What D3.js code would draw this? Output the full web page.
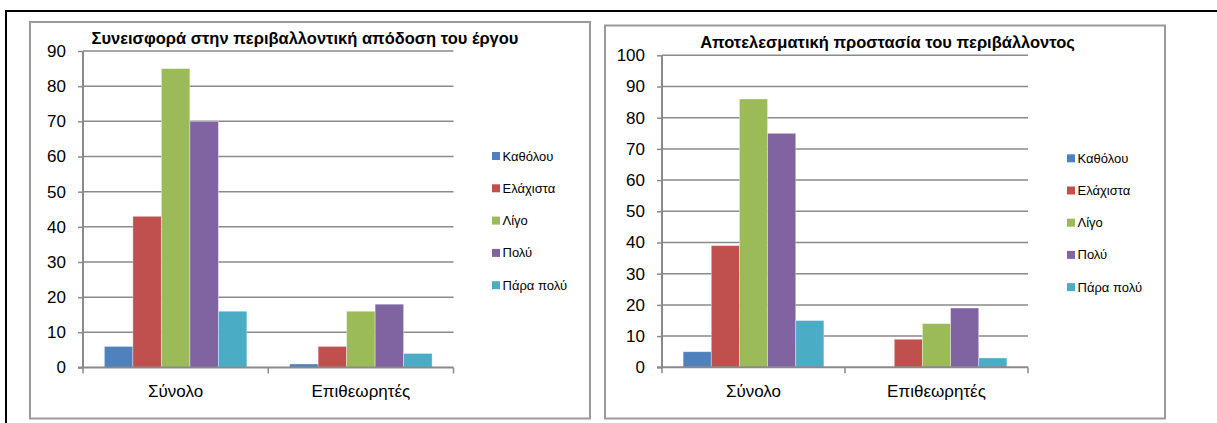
<!DOCTYPE html>
<html>
<head>
<meta charset="utf-8">
<script src="https://cdn.jsdelivr.net/npm/d3@7"></script>
<style>
  html, body { margin: 0; padding: 0; background: #fff; }
  svg { display: block; }
  text { font-family: "Liberation Sans", Arial, sans-serif; fill: #000; }
</style>
</head>
<body>
<svg id="chart" width="1217" height="423"></svg>
<script>
// ---- data ----
const categories = ["Σύνολο", "Επιθεωρητές"];
const seriesNames = ["Καθόλου", "Ελάχιστα", "Λίγο", "Πολύ", "Πάρα πολύ"];
const seriesColors = ["#4F81BD", "#C0504D", "#9BBB59", "#8064A2", "#4BACC6"];

const title1 = "Συνεισφορά στην περιβαλλοντική απόδοση του έργου";
const yTicks1 = [0, 10, 20, 30, 40, 50, 60, 70, 80, 90];
const values1Katholou = [6, 1];
const values1Elaxista = [43, 6];
const values1Ligo = [85, 16];
const values1Poly = [70, 18];
const values1ParaPoly = [16, 4];

const title2 = "Αποτελεσματική προστασία του περιβάλλοντος";
const yTicks2 = [0, 10, 20, 30, 40, 50, 60, 70, 80, 90, 100];
const values2Katholou = [5, 0];
const values2Elaxista = [39, 9];
const values2Ligo = [86, 14];
const values2Poly = [75, 19];
const values2ParaPoly = [15, 3];

const svg = d3.select("#chart");

// outer black frame (top and left edges)
svg.append("line").attr("x1", 5.5).attr("x2", 1217).attr("y1", 11).attr("y2", 11)
  .attr("stroke", "#000").attr("stroke-width", 2);
svg.append("line").attr("x1", 6).attr("x2", 6).attr("y1", 10).attr("y2", 423)
  .attr("stroke", "#000").attr("stroke-width", 2);

function drawChart(cfg) {
  const g = svg.append("g");
  // chart frame
  g.append("rect")
    .attr("x", cfg.box[0]).attr("y", cfg.box[1])
    .attr("width", cfg.box[2] - cfg.box[0]).attr("height", cfg.box[3] - cfg.box[1])
    .attr("fill", "#fff").attr("stroke", "#9a9a9a").attr("stroke-width", 2);

  const x0 = d3.scaleBand().domain(cfg.categories)
    .range([cfg.plot.left, cfg.plot.right]).paddingInner(0).paddingOuter(0);
  // Excel gap width 150%: 0.75 bar width on each side of the group
  const x1 = d3.scaleBand().domain(cfg.series.map(s => s.name))
    .range([0, x0.bandwidth()]).paddingInner(0).paddingOuter(0.75);
  const y = d3.scaleLinear().domain([0, cfg.yMax]).range([cfg.plot.bottom, cfg.plot.top]);

  // gridlines
  g.append("g").selectAll("line").data(cfg.yTicks.filter(t => t > 0)).join("line")
    .attr("x1", cfg.plot.left).attr("x2", cfg.plot.right)
    .attr("y1", d => y(d)).attr("y2", d => y(d))
    .attr("stroke", "#8a8a8a").attr("stroke-width", 1.5);

  // bars
  cfg.series.forEach((s) => {
    g.append("g").selectAll("rect").data(s.values).join("rect")
      .attr("x", (d, i) => x0(cfg.categories[i]) + x1(s.name))
      .attr("width", x1.bandwidth())
      .attr("y", d => y(d))
      .attr("height", d => y(0) - y(d))
      .attr("fill", s.color)
      .attr("stroke", "rgba(255,255,255,0.45)").attr("stroke-width", 0.8);
  });

  // y axis
  const yAxis = d3.axisLeft(y).tickValues(cfg.yTicks).tickSize(5).tickPadding(12);
  const ya = g.append("g").attr("transform", `translate(${cfg.plot.left},0)`).call(yAxis);
  ya.select(".domain").attr("stroke", "#8a8a8a").attr("stroke-width", 2)
    .attr("d", `M0,${cfg.plot.top}V${cfg.plot.bottom}`);
  ya.selectAll(".tick line").attr("stroke", "#8a8a8a").attr("stroke-width", 1.5);
  ya.selectAll(".tick text").attr("font-size", 17).attr("font-family", "Liberation Sans, Arial, sans-serif").attr("fill", "#000");

  // x axis
  const xa = g.append("g").attr("transform", `translate(0,${cfg.plot.bottom})`);
  xa.append("line").attr("x1", cfg.plot.left - 5).attr("x2", cfg.plot.right)
    .attr("stroke", "#8a8a8a").attr("stroke-width", 2);
  const bounds = cfg.categories.map(c => x0(c)).concat([cfg.plot.right]);
  xa.selectAll("line.tk").data(bounds).join("line").attr("class", "tk")
    .attr("x1", d => d).attr("x2", d => d).attr("y1", 0).attr("y2", 6)
    .attr("stroke", "#8a8a8a").attr("stroke-width", 1.5);
  xa.selectAll("text").data(cfg.categories).join("text")
    .attr("x", d => x0(d) + x0.bandwidth() / 2)
    .attr("y", 24)
    .attr("dy", "0.35em")
    .attr("text-anchor", "middle")
    .attr("font-size", 17)
    .text(d => d);

  // title
  g.append("text")
    .attr("x", cfg.titlePos[0]).attr("y", cfg.titlePos[1]).attr("dy", "0.35em")
    .attr("text-anchor", "middle").attr("font-weight", "bold").attr("font-size", 16.5)
    .text(cfg.title);

  // legend
  const lg = g.append("g");
  cfg.series.forEach((s, i) => {
    const ly = cfg.legend.y + i * cfg.legend.step;
    lg.append("rect").attr("x", cfg.legend.x).attr("y", ly - 4).attr("width", 8).attr("height", 8)
      .attr("fill", s.color);
    lg.append("text").attr("x", cfg.legend.x + 10.5).attr("y", ly).attr("dy", "0.35em")
      .attr("font-size", 13).text(s.name);
  });
}

drawChart({
  box: [30, 22, 590, 418.5],
  plot: { left: 83, right: 453.5, top: 51, bottom: 367.5 },
  yMax: 90, yTicks: yTicks1, categories,
  title: title1, titlePos: [305, 38],
  legend: { x: 492, y: 156, step: 32.3 },
  series: [values1Katholou, values1Elaxista, values1Ligo, values1Poly, values1ParaPoly]
    .map((v, i) => ({ name: seriesNames[i], color: seriesColors[i], values: v }))
});

drawChart({
  box: [605, 25.5, 1165, 418.5],
  plot: { left: 662, right: 1028, top: 55.3, bottom: 367.3 },
  yMax: 100, yTicks: yTicks2, categories,
  title: title2, titlePos: [887.5, 42.7],
  legend: { x: 1067, y: 158.3, step: 32.2 },
  series: [values2Katholou, values2Elaxista, values2Ligo, values2Poly, values2ParaPoly]
    .map((v, i) => ({ name: seriesNames[i], color: seriesColors[i], values: v }))
});
</script>
</body>
</html>
